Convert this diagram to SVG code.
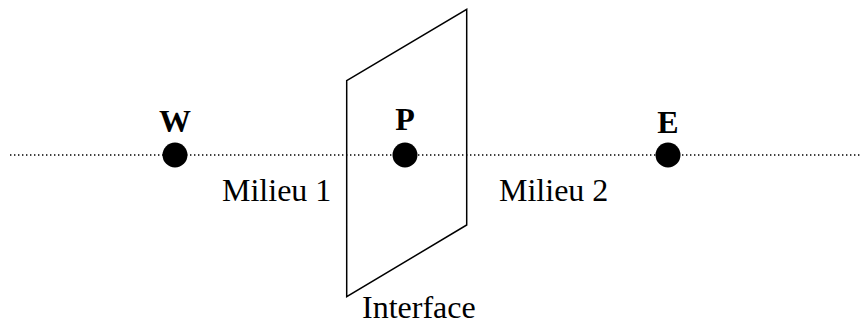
<svg xmlns="http://www.w3.org/2000/svg" width="865" height="326" viewBox="0 0 865 326">
<style>
.lbl{font-family:"Liberation Serif","Times New Roman",serif;font-size:32px;fill:#000}
.b{font-weight:bold;text-anchor:middle}
.dot{fill:#000}
.axis{stroke:#000;stroke-width:1.4;stroke-dasharray:1.4 2.6;fill:none}
.iface{stroke:#000;stroke-width:1.5;fill:none}
</style>
<rect width="865" height="326" fill="#fff"/>
<g id="connectors">
<line class="axis" x1="10" y1="155" x2="862" y2="155"/>
</g>
<g id="interface">
<polygon class="iface" points="346.7,80.7 466.7,9.3 466.7,225 346.7,296.7"/>
<text class="lbl" x="362" y="318">Interface</text>
</g>
<g id="W">
<circle class="dot" cx="175" cy="155" r="12.5"/>
<text class="lbl b" x="175" y="132">W</text>
</g>
<g id="P">
<circle class="dot" cx="405" cy="155" r="12.5"/>
<text class="lbl b" x="405" y="130">P</text>
</g>
<g id="E">
<circle class="dot" cx="668" cy="155" r="12.5"/>
<text class="lbl b" x="668" y="133">E</text>
</g>
<g id="milieu1">
<text class="lbl" x="222" y="201">Milieu 1</text>
</g>
<g id="milieu2">
<text class="lbl" x="499" y="201">Milieu 2</text>
</g>
</svg>
